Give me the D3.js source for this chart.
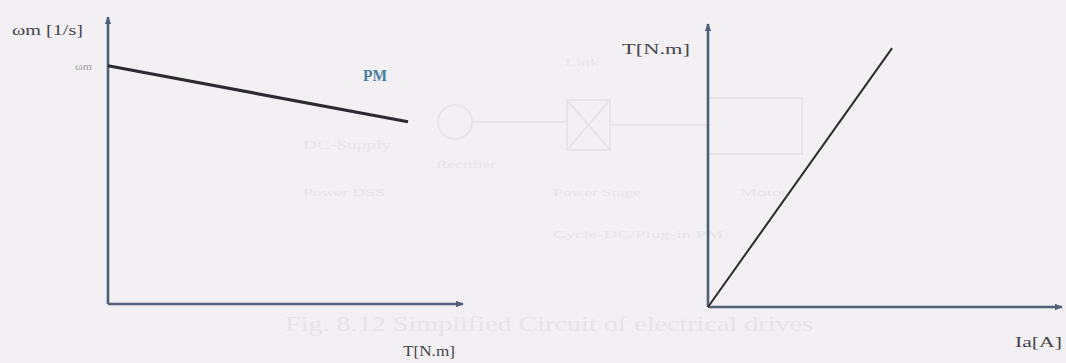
<!DOCTYPE html>
<html>
<head>
<meta charset="utf-8">
<script src="https://cdn.jsdelivr.net/npm/d3@7"></script>
<style>
  html, body { margin: 0; padding: 0; background: #f3f0f3; }
  svg { display: block; }
  text { font-family: "Liberation Serif", "DejaVu Serif", serif; }
</style>
</head>
<body>
<svg id="chart" width="1066" height="363"></svg>
<script>
// Speed–torque characteristic of the PM motor: [torque, speed]
const speedTorque = [[0, 8.3], [8.45, 6.35]];
// Torque–armature current characteristic: [current, torque]
const torqueCurrent = [[0, 0], [5.2, 9.15]];

const leftLabels = { y: "ωm [1/s]", x: "T[N.m]", tick: "ωm", series: "PM" };
const rightLabels = { y: "T[N.m]", x: "Ia[A]" };

// faint text showing through from the reverse side of the page
const ghostText = [
  { t: "Fig. 8.12 Simplified Circuit of electrical drives", x: 285, y: 331, s: 21, w: 528 },
  { t: "DC-Supply", x: 303, y: 149, s: 12, w: 88 },
  { t: "Rectifier", x: 436, y: 168, s: 11, w: 60 },
  { t: "Power DSS", x: 303, y: 196, s: 11, w: 82 },
  { t: "Power Stage", x: 553, y: 196, s: 11, w: 88 },
  { t: "Motor", x: 740, y: 196, s: 11, w: 48 },
  { t: "Link", x: 565, y: 66, s: 11, w: 34 },
  { t: "Cycle-DC/Plug-in PM", x: 553, y: 238, s: 11, w: 170 }
];

const svg = d3.select("#chart");
const axisColor = "#4f5f78";
const lineColor = "#2b2a30";

// ---- background haze text and diagram outlines
const ghost = svg.append("g").attr("fill", "#e7e3e8").attr("stroke", "none");
ghostText.forEach(d => {
  ghost.append("text").attr("x", d.x).attr("y", d.y)
    .attr("font-size", d.s)
    .attr("textLength", d.w).attr("lengthAdjust", "spacingAndGlyphs")
    .text(d.t);
});
const ghostShapes = svg.append("g").attr("fill", "none").attr("stroke", "#e7e3e8").attr("stroke-width", 2);
ghostShapes.append("circle").attr("cx", 455).attr("cy", 122).attr("r", 17);
ghostShapes.append("rect").attr("x", 567).attr("y", 100).attr("width", 43).attr("height", 50);
ghostShapes.append("path").attr("d", "M567,100L610,150M610,100L567,150");
ghostShapes.append("rect").attr("x", 708).attr("y", 98).attr("width", 94).attr("height", 56);
ghostShapes.append("path").attr("d", "M472,122H567M610,125H708");

// ---- arrow marker
const defs = svg.append("defs");
defs.append("marker")
  .attr("id", "arrow")
  .attr("viewBox", "0 0 10 10")
  .attr("refX", 9).attr("refY", 5)
  .attr("markerWidth", 3.2).attr("markerHeight", 3.2)
  .attr("orient", "auto")
  .append("path").attr("d", "M0,1L10,5L0,9Z").attr("fill", axisColor);

function drawAxes(g, x, y) {
  const [x0, x1] = x.range();
  const [y0, y1] = y.range();
  g.append("line")
    .attr("x1", x0).attr("y1", y0).attr("x2", x1).attr("y2", y0)
    .attr("stroke", axisColor).attr("stroke-width", 2.6)
    .attr("marker-end", "url(#arrow)");
  g.append("line")
    .attr("x1", x0).attr("y1", y0).attr("x2", x0).attr("y2", y1)
    .attr("stroke", axisColor).attr("stroke-width", 2.6)
    .attr("marker-end", "url(#arrow)");
}

// ---- left panel: speed vs torque
const xL = d3.scaleLinear().domain([0, 10]).range([108, 463]);
const yL = d3.scaleLinear().domain([0, 10]).range([304, 17]);
const gL = svg.append("g");
drawAxes(gL, xL, yL);

gL.append("path")
  .datum(speedTorque)
  .attr("d", d3.line().x(d => xL(d[0])).y(d => yL(d[1])))
  .attr("fill", "none").attr("stroke", lineColor).attr("stroke-width", 3.2);

gL.append("text")
  .attr("x", 12).attr("y", 35).attr("font-size", 15).attr("fill", "#45454c")
  .attr("textLength", 71).attr("lengthAdjust", "spacingAndGlyphs")
  .text(leftLabels.y);
gL.append("text")
  .attr("x", xL(0) - 16).attr("y", yL(speedTorque[0][1]) + 4)
  .attr("text-anchor", "end").attr("font-size", 11).attr("fill", "#a09ea6")
  .attr("textLength", 17).attr("lengthAdjust", "spacingAndGlyphs")
  .text(leftLabels.tick);
gL.append("text")
  .attr("x", 363).attr("y", 81).attr("font-size", 16).attr("font-weight", "bold")
  .attr("fill", "#4a7fa0")
  .attr("textLength", 24).attr("lengthAdjust", "spacingAndGlyphs")
  .text(leftLabels.series);
gL.append("text")
  .attr("x", 403).attr("y", 356).attr("font-size", 15).attr("fill", "#45454c")
  .attr("textLength", 52).attr("lengthAdjust", "spacingAndGlyphs")
  .text(leftLabels.x);

// ---- right panel: torque vs armature current
const xR = d3.scaleLinear().domain([0, 10]).range([708, 1062]);
const yR = d3.scaleLinear().domain([0, 10]).range([307, 24]);
const gR = svg.append("g");
drawAxes(gR, xR, yR);

gR.append("path")
  .datum(torqueCurrent)
  .attr("d", d3.line().x(d => xR(d[0])).y(d => yR(d[1])))
  .attr("fill", "none").attr("stroke", lineColor).attr("stroke-width", 2);

gR.append("text")
  .attr("x", 622).attr("y", 54).attr("font-size", 15).attr("fill", "#45454c")
  .attr("textLength", 68).attr("lengthAdjust", "spacingAndGlyphs")
  .text(rightLabels.y);
gR.append("text")
  .attr("x", 1015).attr("y", 347).attr("font-size", 14).attr("fill", "#45454c")
  .attr("textLength", 47).attr("lengthAdjust", "spacingAndGlyphs")
  .text(rightLabels.x);
</script>
</body>
</html>
